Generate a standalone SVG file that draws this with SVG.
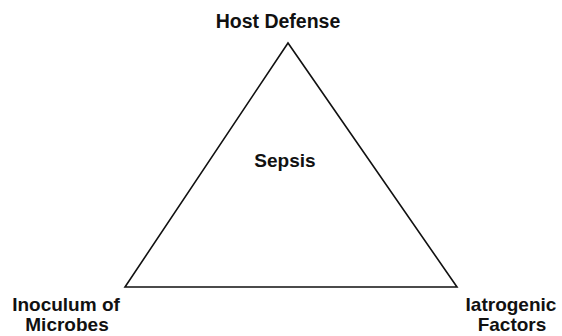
<svg xmlns="http://www.w3.org/2000/svg" width="562" height="336" viewBox="0 0 562 336">
<style>
.lbl{font-family:"Liberation Sans",Arial,sans-serif;font-weight:bold;font-size:19px;fill:#111;text-anchor:middle}
.edge{fill:none;stroke:#111;stroke-width:1.6;stroke-linejoin:miter}
</style>
<rect width="562" height="336" fill="#fff"/>
<g id="connectors">
<polygon class="edge" points="288,43 125,287 457,287"/>
</g>
<g id="host-defense"><text class="lbl" x="278" y="28" style="font-size:19.5px">Host Defense</text></g>
<g id="sepsis"><text class="lbl" x="285" y="167">Sepsis</text></g>
<g id="inoculum"><text class="lbl" x="66" y="311">Inoculum of</text><text class="lbl" x="67" y="331">Microbes</text></g>
<g id="iatrogenic"><text class="lbl" x="511" y="311">Iatrogenic</text><text class="lbl" x="512" y="331">Factors</text></g>
</svg>
